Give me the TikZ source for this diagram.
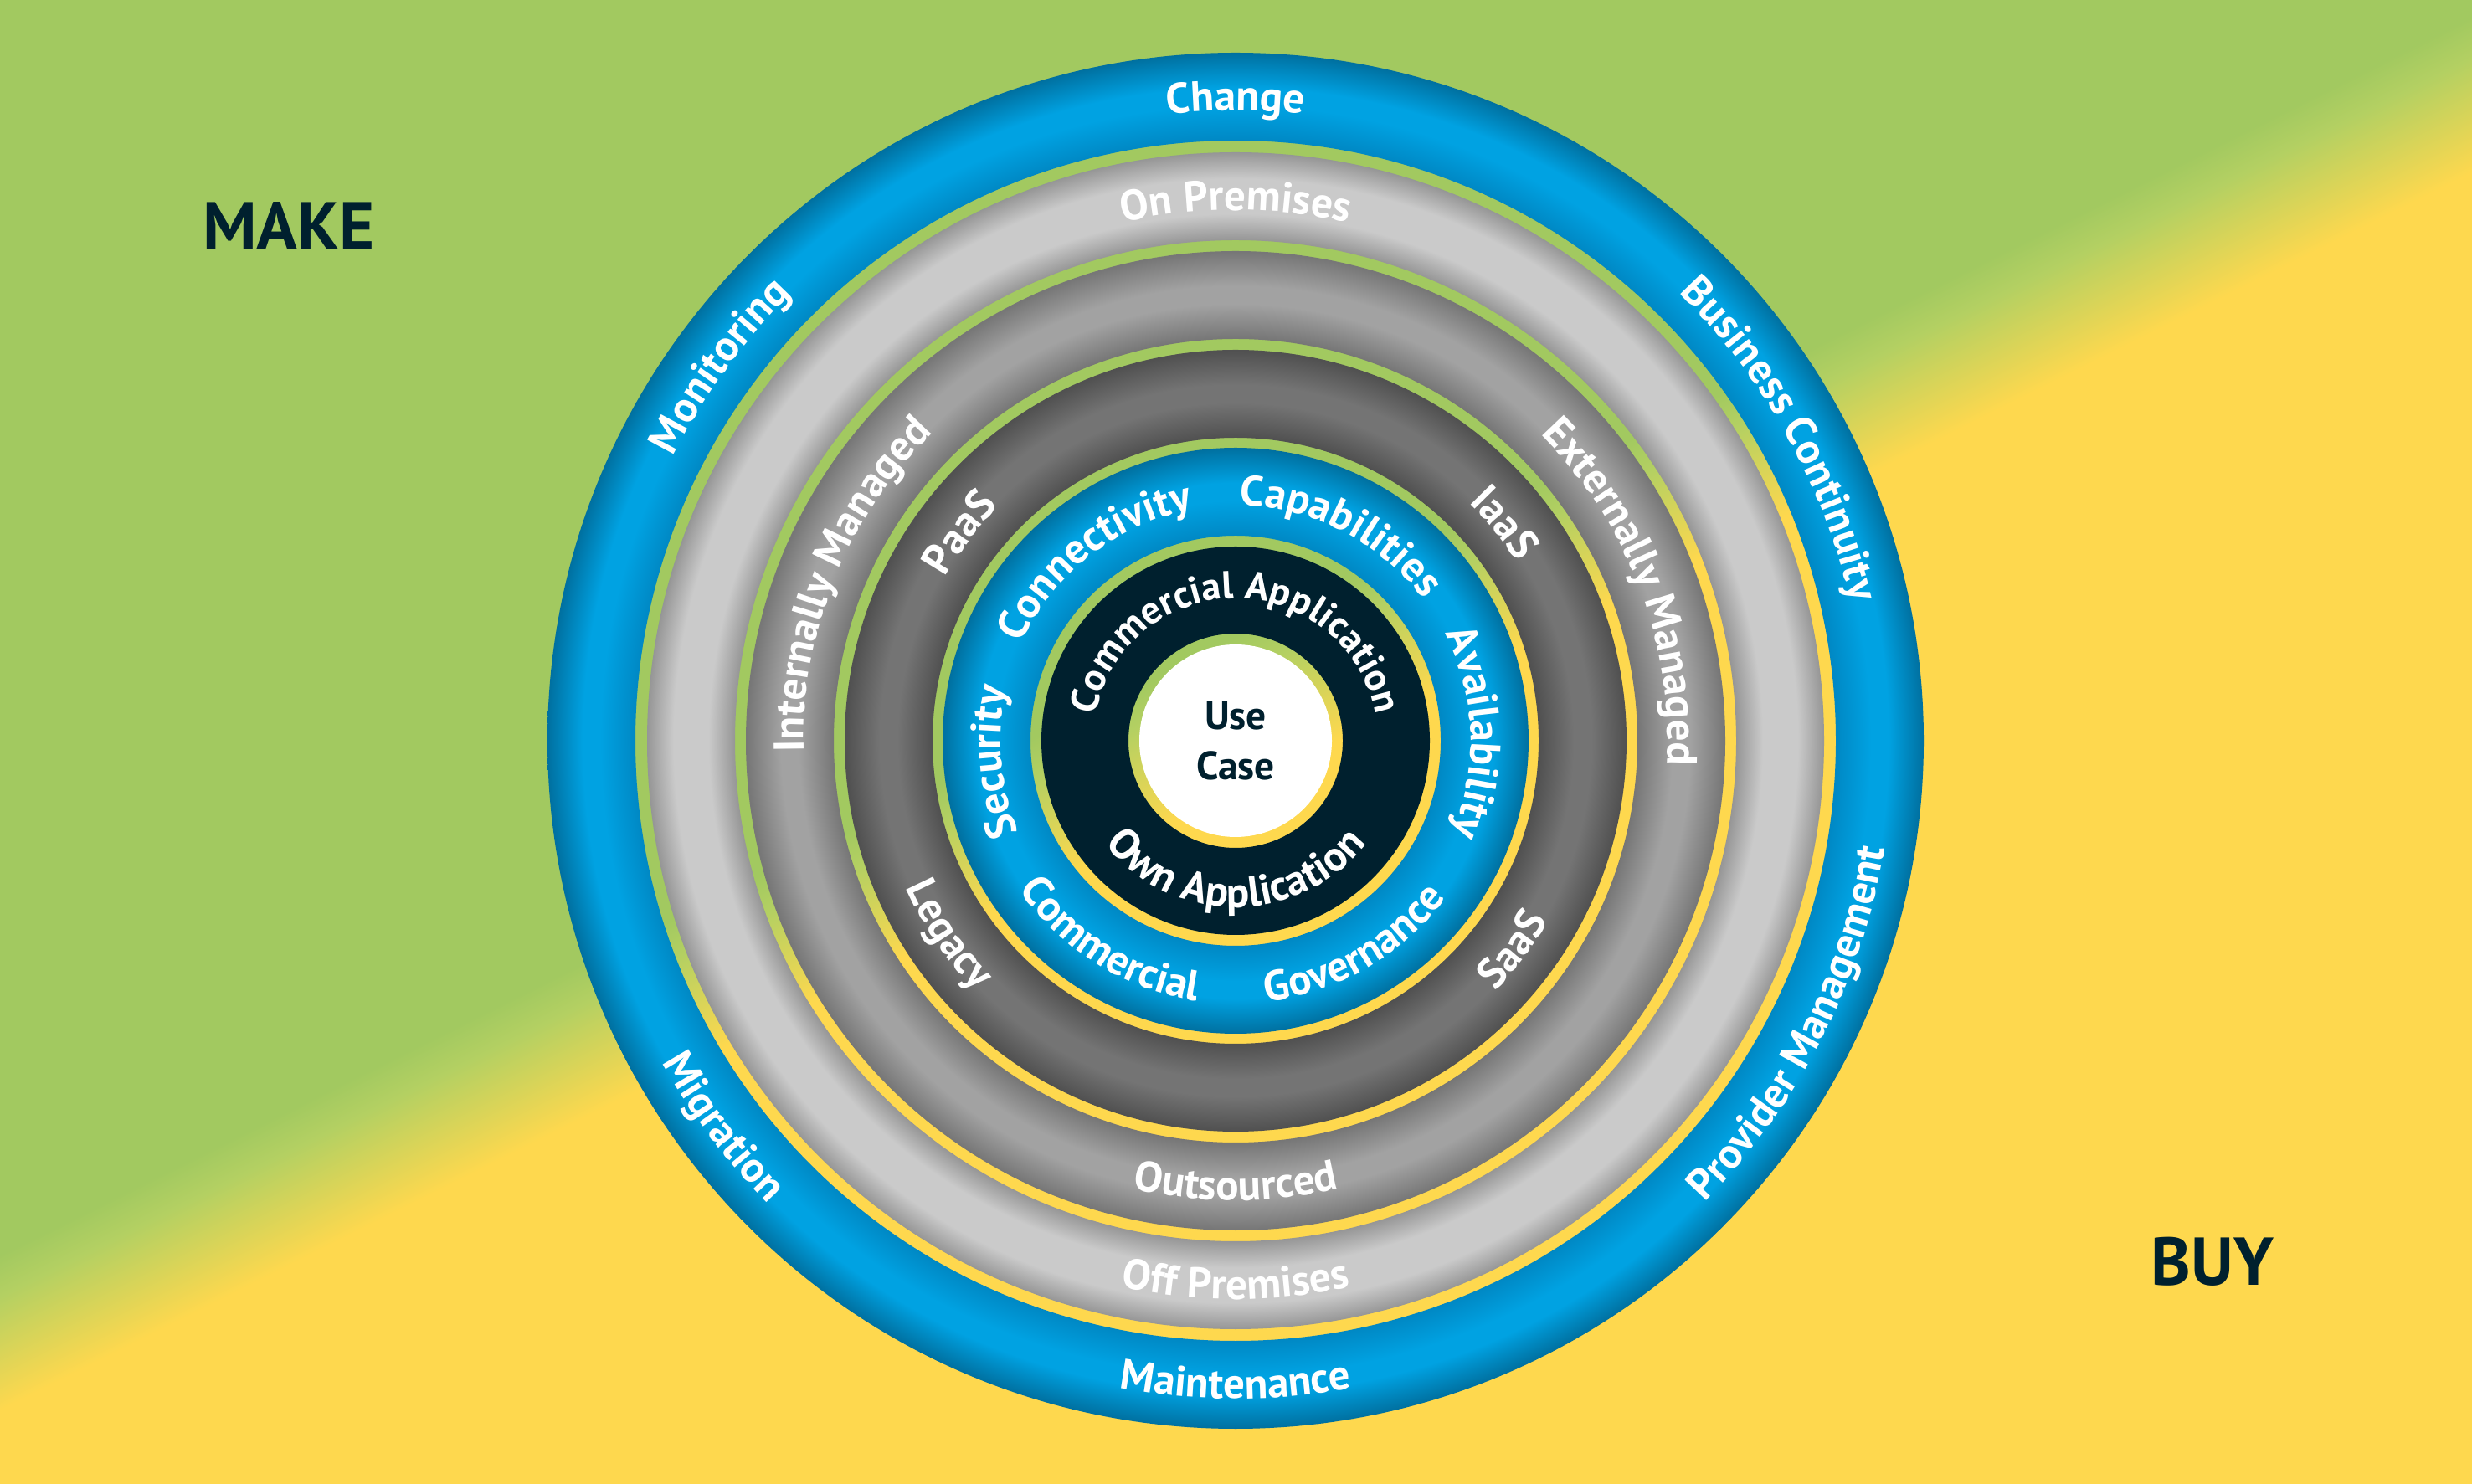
\documentclass[tikz,border=0pt]{standalone}
\usepackage{fontspec}
\setmainfont{PT Sans}
\usepackage{xcolor}
\definecolor{mk-green}{RGB}{162,201,96}
\definecolor{mk-lime}{RGB}{180,208,98}
\definecolor{mk-yellow}{RGB}{254,216,78}
\definecolor{navy}{RGB}{0,32,46}
\definecolor{blue-mid}{RGB}{0,162,226}
\definecolor{blue-in}{RGB}{0,136,196}
\definecolor{blue-edge}{RGB}{0,112,160}
\definecolor{lgrey-mid}{RGB}{202,202,202}
\definecolor{lgrey-edge}{RGB}{150,150,150}
\definecolor{mgrey-mid}{RGB}{162,162,162}
\definecolor{mgrey-edge}{RGB}{118,118,118}
\definecolor{dgrey-mid}{RGB}{116,116,116}
\definecolor{dgrey-edge}{RGB}{80,80,80}
\usepackage{tikz}
\usetikzlibrary{calc,decorations.text}

% background: green (make) to yellow (buy)
\pgfdeclareverticalshading{makebuy}{100bp}{color(0bp)=(mk-yellow); color(48.8bp)=(mk-yellow); color(50.7bp)=(mk-lime); color(51.4bp)=(mk-green); color(100bp)=(mk-green)}

% one radial shading for all the rings, 25bp = outer edge
\pgfdeclareradialshading{rings}{\pgfpoint{0bp}{0bp}}{%
color(0bp)=(navy); color(7.06bp)=(navy);
color(7.45bp)=(blue-in); color(8.73bp)=(blue-mid); color(9.37bp)=(blue-mid); color(10.64bp)=(blue-edge);
color(11.01bp)=(dgrey-edge); color(12.29bp)=(dgrey-mid); color(12.93bp)=(dgrey-mid); color(14.20bp)=(dgrey-edge);
color(14.60bp)=(mgrey-edge); color(15.88bp)=(mgrey-mid); color(16.52bp)=(mgrey-mid); color(17.79bp)=(mgrey-edge);
color(18.19bp)=(lgrey-edge); color(19.15bp)=(lgrey-mid); color(20.42bp)=(lgrey-mid); color(21.38bp)=(lgrey-edge);
color(21.81bp)=(blue-in); color(23.08bp)=(blue-mid); color(23.72bp)=(blue-mid); color(25bp)=(blue-edge);
color(50bp)=(blue-edge)}

\newcommand{\ringfont}{\bfseries\fontsize{14.5}{16}\selectfont}
\newcommand{\navyfont}{\bfseries\fontsize{13.2}{15}\selectfont}
\tikzset{
	ringtext/.style={decorate,decoration={text along path,text align=center,text color=white,text={|\ringfont|#1}}},
	navytext/.style={decorate,decoration={text along path,text align=center,text color=white,text={|\navyfont|#1}}}
}

\begin{document}
\begin{tikzpicture}
	\useasboundingbox (0,0) rectangle (29.53,17.72);
	\begin{scope}
		\clip (0,0) rectangle (29.53,17.72);
		\shade[shading=makebuy,shading angle=26.6] (-1.24,-6.88) rectangle (30.76,25.12);
	\end{scope}
	
	\coordinate (O) at (14.76,8.87);
	
	% rings, the gaps between them stay open
	\shade[shading=rings,even odd rule]
	(O) circle[radius=8.22] (O) circle[radius=7.17]
	(O) circle[radius=7.03] (O) circle[radius=5.98]
	(O) circle[radius=5.85] (O) circle[radius=4.80]
	(O) circle[radius=4.67] (O) circle[radius=3.62]
	(O) circle[radius=3.50] (O) circle[radius=2.45]
	(O) circle[radius=2.32] (O) circle[radius=1.28];
	
	\node[circle,fill=white,minimum size=2.30cm,inner sep=0pt,align=center,
	text=navy,font=\bfseries\fontsize{13.5}{17}\selectfont] (usecase) at (O) {Use\\Case};
	
	\node[text=navy,font=\bfseries\fontsize{23}{27}\selectfont] (make) at (3.45,15.02) {MAKE};
	\node[text=navy,font=\bfseries\fontsize{23}{27}\selectfont] (buy) at (26.43,2.65) {BUY};
	
%	================================================ outer blue ring
	\path[ringtext=Change] ($(O)+(120:7.53)$) arc[start angle=120,end angle=60,radius=7.53];
	\path[ringtext=Business Continuity] ($(O)+(69:7.53)$) arc[start angle=69,end angle=-11,radius=7.53];
	\path[ringtext=Monitoring] ($(O)+(174:7.53)$) arc[start angle=174,end angle=114,radius=7.53];
	\path[ringtext=Maintenance] ($(O)+(240:7.86)$) arc[start angle=240,end angle=300,radius=7.86];
	\path[ringtext=Migration] ($(O)+(187:7.86)$) arc[start angle=187,end angle=247,radius=7.86];
	\path[ringtext=Provider Management] ($(O)+(293:7.86)$) arc[start angle=293,end angle=373,radius=7.86];
	
%	================================================ light grey ring
	\path[ringtext=On Premises] ($(O)+(125:6.34)$) arc[start angle=125,end angle=55,radius=6.34];
	\path[ringtext=Off Premises] ($(O)+(235:6.67)$) arc[start angle=235,end angle=305,radius=6.67];
	
%	================================================ mid grey ring
	\path[ringtext=Internally Managed] ($(O)+(203:5.16)$) arc[start angle=203,end angle=113,radius=5.16];
	\path[ringtext=Externally Managed] ($(O)+(66:5.16)$) arc[start angle=66,end angle=-24,radius=5.16];
	\path[ringtext=Outsourced] ($(O)+(235:5.49)$) arc[start angle=235,end angle=305,radius=5.49];
	
%	================================================ dark grey ring
	\path[ringtext=PaaS] ($(O)+(173:3.98)$) arc[start angle=173,end angle=113,radius=3.98];
	\path[ringtext=IaaS] ($(O)+(69:3.98)$) arc[start angle=69,end angle=9,radius=3.98];
	\path[ringtext=Legacy] ($(O)+(184:4.31)$) arc[start angle=184,end angle=244,radius=4.31];
	\path[ringtext=SaaS] ($(O)+(293:4.31)$) arc[start angle=293,end angle=353,radius=4.31];
	
%	================================================ inner blue ring
	\path[ringtext=Connectivity] ($(O)+(178:2.81)$) arc[start angle=178,end angle=78,radius=2.81];
	\path[ringtext=Capabilities] ($(O)+(113:2.81)$) arc[start angle=113,end angle=13,radius=2.81];
	\path[ringtext=Availability] ($(O)+(52:2.81)$) arc[start angle=52,end angle=-48,radius=2.81];
	\path[ringtext=Security] ($(O)+(235:2.81)$) arc[start angle=235,end angle=135,radius=2.81];
	\path[ringtext=Commercial] ($(O)+(188:3.14)$) arc[start angle=188,end angle=288,radius=3.14];
	\path[ringtext=Governance] ($(O)+(250:3.14)$) arc[start angle=250,end angle=350,radius=3.14];
	
%	================================================ navy ring
	\path[navytext=Commercial Application] ($(O)+(190:1.70)$) arc[start angle=190,end angle=-10,radius=1.70];
	\path[ringtext=Own Application] ($(O)+(170:1.99)$) arc[start angle=170,end angle=370,radius=1.99];
	
\end{tikzpicture}
\end{document}
